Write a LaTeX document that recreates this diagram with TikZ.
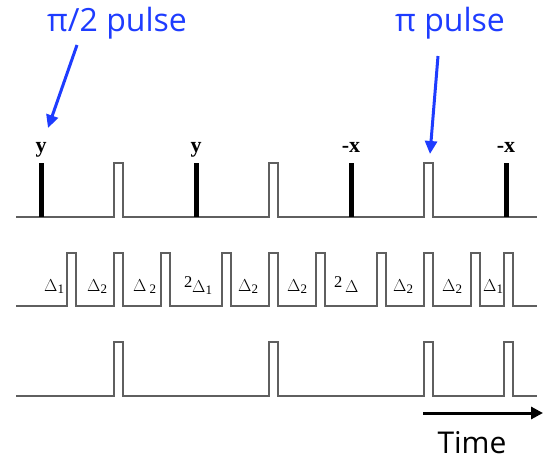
\documentclass[tikz,border=0pt]{standalone}
\usepackage{fontspec}
\setmainfont{Liberation Serif}
\newfontfamily\blfont{Open Sans}
\usetikzlibrary{arrows.meta}
\definecolor{pblue}{RGB}{30,60,255}
\definecolor{wire}{RGB}{95,95,95}
\newcommand{\dsub}[1]{\raisebox{-0.15em}{\fontsize{13}{13}\selectfont #1}}
\begin{document}
\begin{tikzpicture}[x=1pt,y=-1pt,
  wave/.style={draw=wire,line width=1.2pt},
  bar/.style={fill=black},
  phase/.style={font=\fontsize{22}{22}\selectfont\bfseries,anchor=base,inner sep=0pt},
  dlab/.style={font=\fontsize{16.5}{16.5}\selectfont,anchor=base west,inner sep=0pt},
  blab/.style={font=\blfont\fontsize{32}{32}\selectfont,text=pblue,anchor=base,inner sep=0pt},
  barrow/.style={draw=pblue,line width=3pt,-{Triangle[length=13pt,width=12pt]}},
  tarrow/.style={draw=black,line width=3pt,-{Triangle[length=12pt,width=12pt]}}]
\useasboundingbox (0,0) rectangle (543,463);
% top row
\draw[wave] (16,217) \foreach \a in {114,269,424} { -- (\a,217) -- (\a,163) -- (\a+9,163) -- (\a+9,217) } -- (537,217);
\foreach \b/\n in {41/b1,196/b2,351/b3,506/b4} {
  \fill[bar] (\b-2.5,163) rectangle (\b+2.5,217);
}
\node[phase] (p1) at (41,152) {y};
\node[phase] (p2) at (196,152) {y};
\node[phase] (p3) at (351,152) {-x};
\node[phase] (p4) at (506,152) {-x};
% middle row
\draw[wave] (16,306) \foreach \a in {67,114,161,222,269,316,377,424,471,504} { -- (\a,306) -- (\a,253) -- (\a+9,253) -- (\a+9,306) } -- (537,306);
\node[dlab] (d1) at (44,291) {$\Delta$\dsub{1}};
\node[dlab] (d2) at (87,291) {$\Delta$\dsub{2}};
\node[dlab] (d3) at (133,291) {$\Delta$\hspace{3pt}\dsub{2}};
\node[dlab] (d4a) at (184,287) {2};
\node[dlab] (d4) at (192,292) {$\Delta$\dsub{1}};
\node[dlab] (d5) at (238,291) {$\Delta$\dsub{2}};
\node[dlab] (d6) at (287,291) {$\Delta$\dsub{2}};
\node[dlab] (d7a) at (334,287) {2};
\node[dlab] (d7) at (345,292) {$\Delta$};
\node[dlab] (d8) at (393,291) {$\Delta$\dsub{2}};
\node[dlab] (d9) at (442,291) {$\Delta$\dsub{2}};
\node[dlab] (d10) at (483,291) {$\Delta$\dsub{1}};
% bottom row
\draw[wave] (16,396) \foreach \a in {114,269,424,504} { -- (\a,396) -- (\a,342) -- (\a+9,342) -- (\a+9,396) } -- (537,396);
% blue labels
\node[blab] (l1) at (117,31) {π/2 pulse};
\node[blab] (l2) at (450,31) {π pulse};
\coordinate (a1s) at (77,45);
\coordinate (a1e) at (48,128);
\coordinate (a2s) at (438,56);
\coordinate (a2e) at (430,154);
\draw[barrow] (a1s) -- (a1e);
\draw[barrow] (a2s) -- (a2e);
% time arrow
\coordinate (ts) at (423,413);
\coordinate (te) at (543,413);
\draw[tarrow] (ts) -- (te);
\node[font=\blfont\fontsize{30}{30}\selectfont,anchor=base,inner sep=0pt] (time) at (472,453) {Time};
\end{tikzpicture}
\end{document}
